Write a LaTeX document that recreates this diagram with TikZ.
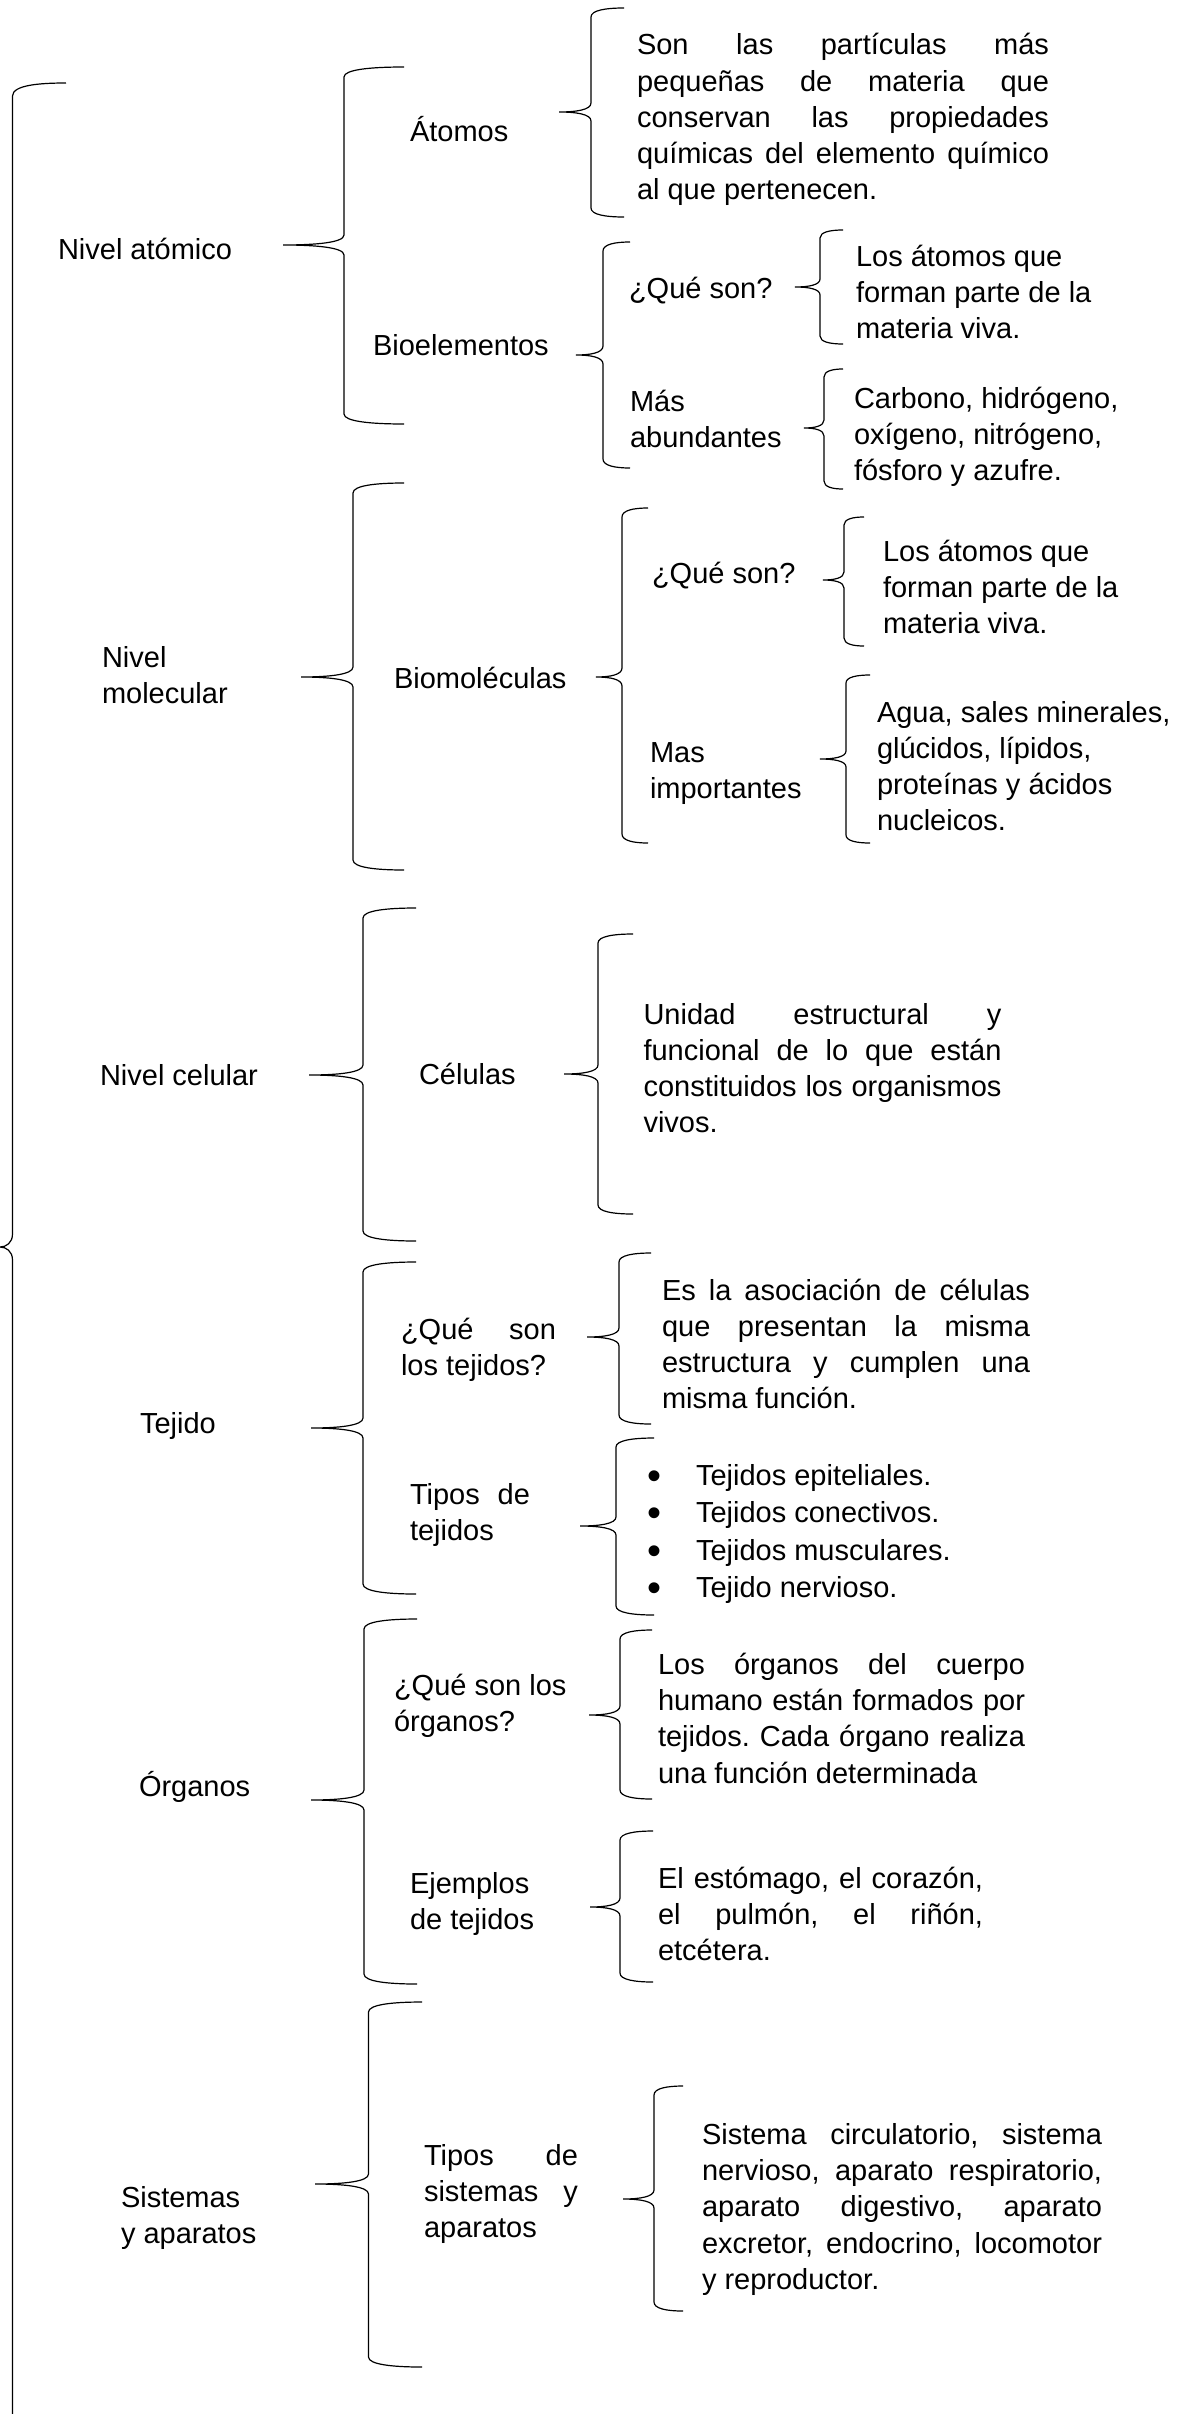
\documentclass[tikz,border=0pt]{standalone}
\usepackage{fontspec}
\setmainfont{Liberation Sans}
\frenchspacing
\newcommand{\J}[1]{\makebox[\linewidth][s]{#1}}
\newcommand{\blk}[2]{\parbox[t]{#1}{\raggedright #2}}
\newcommand{\bl}{\makebox[23.5pt][l]{\hspace{-1pt}\raisebox{-2pt}{\fontsize{20}{18}\selectfont •}}}
\newcommand{\wbrace}[7]{%
  \draw[brc] (#1,#2) .. controls ({#3+0.45*(#1-#3)},#2) and (#3,{#2+0.25*#7}) .. (#3,{#2+#7})
    -- (#3,{#5-#7}) .. controls (#3,{#5-0.25*#7}) and ({#3-0.45*(#3-#4)},#5) .. (#4,#5)
    .. controls ({#3-0.45*(#3-#4)},#5) and (#3,{#5+0.25*#7}) .. (#3,{#5+#7})
    -- (#3,{#6-#7}) .. controls (#3,{#6-0.25*#7}) and ({#3+0.45*(#1-#3)},#6) .. (#1,#6);}
\tikzset{
  brc/.style={draw=black, line width=0.6pt},
  txt/.style={anchor=base west, inner sep=0pt, outer sep=0pt,
              font=\fontsize{14.5}{18.1}\selectfont},
  bul/.style={txt, font=\fontsize{14.5}{18.75}\selectfont}
}
\begin{document}
\begin{tikzpicture}[x=0.5pt,y=-0.5pt]
\useasboundingbox[fill=white] (0,0) rectangle (1182,2414);
\begin{scope}
\clip (0,0) rectangle (1182,2414);
% big outer brace
\draw[brc] (66,83) .. controls (40,83) and (12.5,85) .. (12.5,96)
  -- (12.5,1234) .. controls (12.5,1243) and (6,1247) .. (0,1247)
  .. controls (6,1247) and (12.5,1251) .. (12.5,1260) -- (12.5,2420);
\end{scope}
% level 1 braces
\wbrace{404}{67}{344}{283}{245}{424}{10}
\wbrace{404}{483}{353}{301}{677}{870}{10}
\wbrace{416}{908}{363}{309}{1075}{1241}{10}
\wbrace{416}{1262}{363}{311}{1428}{1594}{10}
\wbrace{417}{1619}{364}{311}{1800}{1984}{10}
\wbrace{422}{2002}{368.5}{315}{2184}{2367}{10}
% level 2 braces
\wbrace{624}{8}{591}{559}{112}{217}{9}
\wbrace{630}{242}{603}{576}{355}{468}{9}
\wbrace{648}{508}{622}{596}{677}{843}{9}
\wbrace{633}{934}{598}{564}{1074}{1214}{9}
\wbrace{651}{1253}{619}{587}{1337}{1424}{9}
\wbrace{654}{1438}{616}{580}{1526}{1615}{9}
\wbrace{652}{1630}{620}{589}{1715}{1799}{9}
\wbrace{653}{1831}{620}{590}{1907}{1982}{9}
\wbrace{683}{2086}{654}{623}{2199}{2311}{9}
% level 3 braces
\wbrace{843}{230}{820}{795}{287}{344}{8}
\wbrace{843}{369}{824}{804}{428}{489}{8}
\wbrace{864}{517}{844}{823}{580}{646}{8}
\wbrace{870}{675}{846}{820}{759}{843}{8}

% level 0 texts
\node[txt] (n0a) at (58,259) {Nivel atómico};
\node[txt] (n0m) at (102,667) {\blk{120pt}{Nivel\\molecular}};
\node[txt] (n0c) at (100,1085) {Nivel celular};
\node[txt] (n0t) at (140,1433) {Tejido};
\node[txt] (n0o) at (139,1796) {Órganos};
\node[txt] (n0s) at (121,2207) {\blk{120pt}{Sistemas\\y aparatos}};

% level 1 texts
\node[txt] (n1at) at (410,141) {Átomos};
\node[txt] (n1bio) at (373,355) {Bioelementos};
\node[txt] (n1bm) at (394,688) {Biomoléculas};
\node[txt] (n1cel) at (419,1084) {Células};
\node[txt] (n1qt) at (401,1339) {\blk{77.5pt}{\J{¿Qué son}\\los tejidos?}};
\node[txt] (n1tt) at (410,1504) {\blk{60pt}{\J{Tipos de}\\tejidos}};
\node[txt] (n1qo) at (394,1695) {\blk{100pt}{¿Qué son los\\órganos?}};
\node[txt] (n1ej) at (410,1893) {\blk{100pt}{Ejemplos\\de tejidos}};
\node[txt] (n1ts) at (424,2165) {\blk{77pt}{\J{Tipos de}\\\J{sistemas y}\\aparatos}};

% level 2 texts
\node[txt] (n2q1) at (629,298) {¿Qué son?};
\node[txt] (n2ma) at (630,411) {\blk{100pt}{Más\\abundantes}};
\node[txt] (n2q2) at (652,583) {¿Qué son?};
\node[txt] (n2mi) at (650,762) {\blk{100pt}{Mas\\importantes}};

% definitions
\node[txt] (dat) at (637,55) {\blk{206pt}{\J{Son las partículas más}\\\J{pequeñas de materia que}\\\J{conservan las propiedades}\\\J{químicas del elemento químico}\\al que pertenecen.}};
\node[txt] (dq1) at (856,266) {\blk{160pt}{Los átomos que\\forman parte de la\\materia viva.}};
\node[txt] (dma) at (854,408) {\blk{160pt}{Carbono, hidrógeno,\\oxígeno, nitrógeno,\\fósforo y azufre.}};
\node[txt] (dq2) at (883,561) {\blk{150pt}{Los átomos que\\forman parte de la\\materia viva.}};
\node[txt] (dmi) at (877,722) {\blk{155pt}{Agua, sales minerales,\\glúcidos, lípidos,\\proteínas y ácidos\\nucleicos.}};
\node[txt] (dcel) at (643.5,1024) {\blk{179pt}{\J{Unidad estructural y}\\\J{funcional de lo que están}\\\J{constituidos los organismos}\\vivos.}};
\node[txt] (dqt) at (662,1300) {\blk{184pt}{\J{Es la asociación de células}\\\J{que presentan la misma}\\\J{estructura y cumplen una}\\misma función.}};
\node[bul] (dtt) at (649,1485) {\blk{180pt}{\bl Tejidos epiteliales.\\\bl Tejidos conectivos.\\\bl Tejidos musculares.\\\bl Tejido nervioso.}};
\node[txt] (dqo) at (658,1674.5) {\blk{183.5pt}{\J{Los órganos del cuerpo}\\\J{humano están formados por}\\\J{tejidos. Cada órgano realiza}\\una función determinada}};
\node[txt] (dej) at (658,1888) {\blk{162.5pt}{\J{El estómago, el corazón,}\\\J{el pulmón, el riñón,}\\etcétera.}};
\node[txt] (dts) at (702,2144.5) {\blk{200pt}{\J{Sistema circulatorio, sistema}\\\J{nervioso, aparato respiratorio,}\\\J{aparato digestivo, aparato}\\\J{excretor, endocrino, locomotor}\\y reproductor.}};
\end{tikzpicture}
\end{document}
